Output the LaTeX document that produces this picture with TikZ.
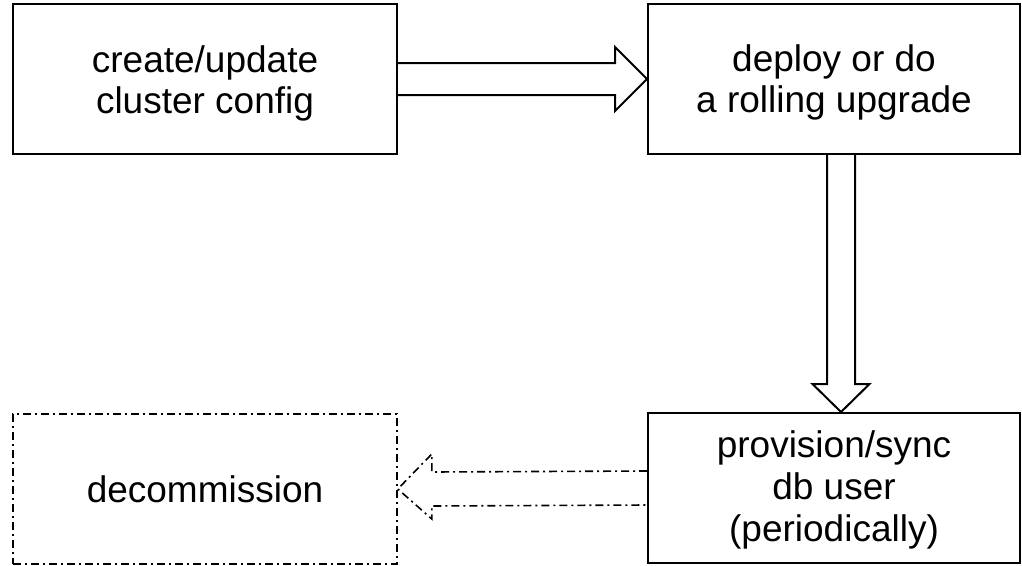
\documentclass[tikz,border=0pt]{standalone}
\usepackage{fontspec}
\setmainfont{Liberation Sans}
\usetikzlibrary{calc}
% multi-line label; extra head room (#1) pushes it down inside its box
\newcommand{\boxlabel}[3]{\raisebox{0pt}[\dimexpr\height+#1pt\relax][\depth]{\fontsize{37}{#2}\selectfont\begin{tabular}{@{}c@{}}#3\end{tabular}}}
\tikzset{
  stepbox/.style={draw=black, line width=2pt, minimum width=384pt, minimum height=150pt,
    inner sep=0pt, align=center},
  ghostbox/.style={stepbox, line width=1.6pt, dash pattern=on 8pt off 4pt on 2pt off 4pt},
  blockarrow/.style={draw=black, line width=2pt, line join=miter},
  ghostarrow/.style={blockarrow, line width=1.6pt, dash pattern=on 8pt off 4pt on 2pt off 4pt}
}
\renewcommand{\arraystretch}{1}
\begin{document}
\begin{tikzpicture}[x=1pt, y=-1pt]
  \useasboundingbox (0,0) rectangle (1022,565);
  \fill[white] (0,0) rectangle (1022,565);

  % process steps
  \node[stepbox] (create) at (205,79) {\boxlabel{11}{41}{create/update\\cluster config}};
  \node[stepbox, minimum width=372pt] (deploy) at (834,79) {\boxlabel{10}{41}{deploy or do\\a rolling upgrade}};
  \node[stepbox, minimum width=372pt] (sync) at (834,488) {\boxlabel{7}{42}{provision/sync\\db user\\(periodically)}};
  \node[ghostbox] (decom) at (205,489) {\boxlabel{10}{41}{decommission}};

  % create -> deploy
  \draw[blockarrow]
    ($(create.east)+(0,-16)$) -- ($(deploy.west)+(-32,-16)$) -- ($(deploy.west)+(-32,-32)$)
    -- (deploy.west)
    -- ($(deploy.west)+(-32,32)$) -- ($(deploy.west)+(-32,16)$) -- ($(create.east)+(0,16)$);

  % deploy -> sync
  \coordinate (dtop) at ($(deploy.south)+(7,0)$);
  \coordinate (dtip) at ($(sync.north)+(7,0)$);
  \draw[blockarrow]
    ($(dtop)+(-14,0)$) -- ($(dtip)+(-14,-28)$) -- ($(dtip)+(-28.5,-28)$)
    -- (dtip)
    -- ($(dtip)+(28.5,-28)$) -- ($(dtip)+(14,-28)$) -- ($(dtop)+(14,0)$);

  % sync -> decommission
  \draw[ghostarrow]
    ($(sync.west)+(0,-17)$) -- ($(decom.east)+(34,-17)$) -- ($(decom.east)+(34,-35)$)
    -- (decom.east)
    -- ($(decom.east)+(34,30)$) -- ($(decom.east)+(34,17)$) -- ($(sync.west)+(0,17)$);
\end{tikzpicture}
\end{document}
